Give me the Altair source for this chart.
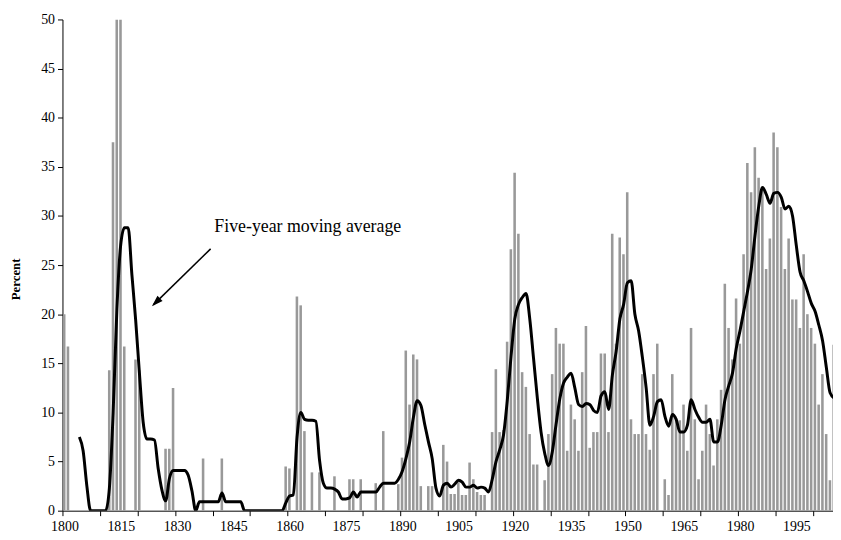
import altair as alt
import pandas as pd

# ---- data ----
bar_years = [1800, 1801, 1812, 1813, 1814, 1815, 1816, 1819, 1820, 1827, 1828, 1829,
             1837, 1842, 1859, 1860, 1862, 1863, 1864, 1866, 1868, 1872, 1876, 1877,
             1879, 1883, 1885, 1889, 1890, 1891, 1892, 1893, 1894, 1895, 1897, 1898,
             1901, 1902, 1903, 1904, 1905, 1906, 1907, 1908, 1909, 1910, 1911, 1912,
             1914, 1915, 1916, 1917, 1918, 1919, 1920, 1921, 1922, 1923, 1924, 1925,
             1926, 1928, 1929, 1930, 1931, 1932, 1933, 1934, 1935, 1936, 1937, 1938,
             1939, 1940, 1941, 1942, 1943, 1944, 1945, 1946, 1947, 1948, 1949, 1950,
             1951, 1952, 1953, 1954, 1955, 1956, 1957, 1958, 1960, 1961, 1962, 1963,
             1964, 1965, 1966, 1967, 1968, 1969, 1970, 1971, 1972, 1973, 1974, 1975,
             1976, 1977, 1978, 1979, 1980, 1981, 1982, 1983, 1984, 1985, 1986, 1987,
             1988, 1989, 1990, 1991, 1992, 1993, 1994, 1995, 1996, 1997, 1998, 1999,
             2000, 2001, 2002, 2003, 2004, 2005]
bar_values = [20.0, 16.7, 14.3, 37.5, 50.0, 50.0, 16.7, 15.4, 14.3, 6.3, 6.3, 12.5,
              5.3, 5.3, 4.5, 4.3, 21.8, 20.9, 8.1, 3.9, 3.9, 3.5, 3.2, 3.2,
              3.2, 2.8, 8.1, 2.7, 5.4, 16.3, 10.8, 15.9, 15.4, 2.5, 2.5, 2.5,
              6.7, 5.0, 1.7, 1.7, 2.9, 1.6, 1.6, 4.9, 3.2, 1.9, 1.6, 1.6,
              8.0, 14.4, 8.0, 8.2, 17.2, 26.6, 34.4, 28.2, 14.1, 12.6, 7.8, 4.7,
              4.7, 3.1, 7.8, 13.9, 18.6, 17.0, 17.0, 6.1, 10.8, 9.3, 6.1, 14.1,
              18.8, 6.4, 8.0, 8.0, 16.0, 16.0, 8.0, 28.2, 17.0, 27.8, 26.1, 32.4,
              9.3, 7.8, 7.8, 13.9, 7.8, 6.2, 13.9, 17.0, 3.2, 1.6, 13.9, 9.3,
              9.2, 10.8, 6.1, 18.6, 9.3, 3.2, 6.1, 10.8, 7.8, 4.6, 9.3, 12.3,
              23.1, 18.6, 15.4, 21.6, 17.0, 26.1, 35.4, 32.4, 37.0, 33.9, 32.9, 24.6,
              27.7, 38.5, 37.0, 30.9, 24.6, 27.7, 21.5, 21.5, 18.6, 26.1, 20.0, 18.6,
              17.0, 10.8, 13.9, 7.8, 3.1, 16.9]

ma_first_year = 1804
ma_values = [7.5, 6.1, 2.5, 0, 0, 0,                                  # 1804-1809
             0, 0, 2.3, 10.0, 20.5, 27.0, 28.8, 28.8, 24.0, 19.4,      # 1810s
             14.0, 9.0, 7.3, 7.3, 7.2, 4.3, 2.1, 1.0, 3.3, 4.1,        # 1820s
             4.1, 4.1, 4.1, 3.6, 2.0, 0, 0.9, 0.9, 0.9, 0.9,           # 1830s
             0.9, 0.9, 1.8, 0.9, 0.9, 0.9, 0.9, 0.9, 0, 0,             # 1840s
             0, 0, 0, 0, 0, 0, 0, 0, 0, 0.8,                           # 1850s
             1.5, 1.6, 7.5, 10.0, 9.3, 9.2, 9.2, 9.1, 5.1, 2.8,        # 1860s
             2.3, 2.3, 2.2, 1.9, 1.2, 1.2, 1.3, 1.9, 1.4, 1.9,         # 1870s
             1.9, 1.9, 1.9, 1.9, 2.4, 2.8, 2.8, 2.8, 2.8, 3.2,         # 1880s
             4.0, 5.3, 7.0, 9.5, 11.2, 10.7, 8.8, 7.0, 5.3, 2.3,       # 1890s
             1.5, 2.6, 2.8, 2.4, 2.7, 3.1, 2.9, 2.4, 2.4, 2.6,         # 1900s
             2.3, 2.4, 2.3, 1.9, 3.2, 5.0, 6.2, 7.7, 11.2, 15.7,       # 1910s
             19.5, 21.0, 21.7, 22.1, 19.5, 15.5, 11.5, 8.0, 5.8, 4.6,  # 1920s
             6.0, 8.8, 11.4, 13.0, 13.6, 14.0, 12.5, 10.8, 10.6, 10.9, # 1930s
             10.8, 10.2, 10.0, 11.7, 12.1, 10.3, 13.8, 16.2, 19.5, 21.0,  # 1940s
             23.2, 23.4, 20.0, 18.3, 15.6, 12.5, 8.7, 9.6, 11.1, 11.3,    # 1950s
             9.6, 8.6, 9.8, 9.3, 8.0, 8.0, 8.7, 11.3, 10.3, 9.5,          # 1960s
             9.0, 9.0, 9.3, 7.0, 7.0, 8.7, 11.3, 12.7, 14.0, 16.5,        # 1970s
             18.3, 20.3, 22.3, 24.6, 28.0, 31.0, 32.9, 32.2, 31.3, 32.3,  # 1980s
             32.4, 31.9, 30.7, 31.0, 30.0, 27.0, 24.3, 23.4, 22.3, 21.1,  # 1990s
             20.3, 18.9, 17.3, 14.6, 12.0, 11.5]                          # 2000-2005
ma_years = list(range(ma_first_year, ma_first_year + len(ma_values)))

tick_years = [1800, 1810, 1820, 1830, 1840, 1850, 1860, 1870, 1880, 1890, 1900,
              1910, 1920, 1930, 1940, 1950, 1960, 1970, 1980, 1990, 2000]
label_years = [1800, 1815, 1830, 1845, 1860, 1875, 1890, 1905, 1920, 1935, 1950,
               1965, 1980, 1995]
y_ticks = [0, 5, 10, 15, 20, 25, 30, 35, 40, 45, 50]

note_text = ["Five-year moving average"]
note_year = [1840.45]
note_value = [28.35]
arrow_from = [1839.47, 26.65]
arrow_to = [1824.2, 20.95]
arrow_head = [1824.9, 21.2]

FONT = "Liberation Serif"

bars_df = pd.DataFrame({"year": bar_years, "pct": bar_values})
ma_df = pd.DataFrame({"year": ma_years, "pct": ma_values})
note_df = pd.DataFrame({"year": note_year, "pct": note_value, "txt": note_text})
arrow_df = pd.DataFrame({"x": [arrow_from[0]], "y": [arrow_from[1]],
                         "x2": [arrow_to[0]], "y2": [arrow_to[1]]})
head_df = pd.DataFrame({"x": [arrow_head[0]], "y": [arrow_head[1]]})

xscale = alt.Scale(domain=[1800, 2005.28], nice=False, zero=False)
yscale = alt.Scale(domain=[0, 50], nice=False)

bars = alt.Chart(bars_df).transform_calculate(
    x0="datum.year + 0.12", x1="datum.year + 0.80"
).mark_bar(color="#999999", clip=True).encode(
    x=alt.X("x0:Q", scale=xscale,
            axis=alt.Axis(values=tick_years, labels=False, ticks=True, tickSize=5,
                          domain=True, grid=False, orient="bottom", title=None)),
    x2="x1:Q",
    y=alt.Y("pct:Q", scale=yscale,
            axis=alt.Axis(values=y_ticks, grid=False, tickSize=5, title="Percent",
                          orient="left",
                          titleFontWeight="bold", titleFontSize=13, titleAngle=-90,
                          titleX=-47, titleY=262, titleAlign="center",
                          titleBaseline="middle", labelPadding=3)),
    y2=alt.datum(0),
)

line = alt.Chart(ma_df).transform_calculate(
    xc="datum.year + 0.5"
).mark_line(color="black", strokeWidth=3, interpolate="monotone", clip=True).encode(
    x=alt.X("xc:Q", scale=xscale,
            axis=alt.Axis(values=label_years, ticks=False, domain=False, labels=True,
                          grid=False, orient="bottom", title=None, labelPadding=9,
                          labelOffset=2, labelFlush=False, format="d")),
    y=alt.Y("pct:Q", scale=yscale, axis=None),
)

note = alt.Chart(note_df).mark_text(
    font=FONT, fontSize=18, align="left", baseline="alphabetic", color="black"
).encode(
    x=alt.X("year:Q", scale=xscale, axis=None),
    y=alt.Y("pct:Q", scale=yscale, axis=None),
    text="txt:N",
)

arrow = alt.Chart(arrow_df).mark_rule(color="black", strokeWidth=1.5).encode(
    x=alt.X("x:Q", scale=xscale, axis=None),
    y=alt.Y("y:Q", scale=yscale, axis=None),
    x2="x2:Q",
    y2="y2:Q",
)

head = alt.Chart(head_df).mark_point(
    shape="M0,-1L-0.65,1L0.65,1Z", filled=True, color="black", size=130, angle=226,
    opacity=1, strokeWidth=0
).encode(
    x=alt.X("x:Q", scale=xscale, axis=None),
    y=alt.Y("y:Q", scale=yscale, axis=None),
)

chart = alt.layer(bars, line, note, arrow, head).resolve_axis(
    x="independent", y="independent"
).properties(
    width=778, height=496,
    autosize=alt.AutoSizeParams(type="none"),
    padding={"left": 55, "top": 9, "right": 0, "bottom": 24},
).configure_view(stroke=None).configure_axis(
    labelFont=FONT, labelFontSize=14, labelColor="black",
    titleFont=FONT, titleColor="black",
    domainColor="black", tickColor="black", domainWidth=1, tickWidth=1,
)

chart.save("out.html", embed_options={"renderer": "svg", "actions": False})
